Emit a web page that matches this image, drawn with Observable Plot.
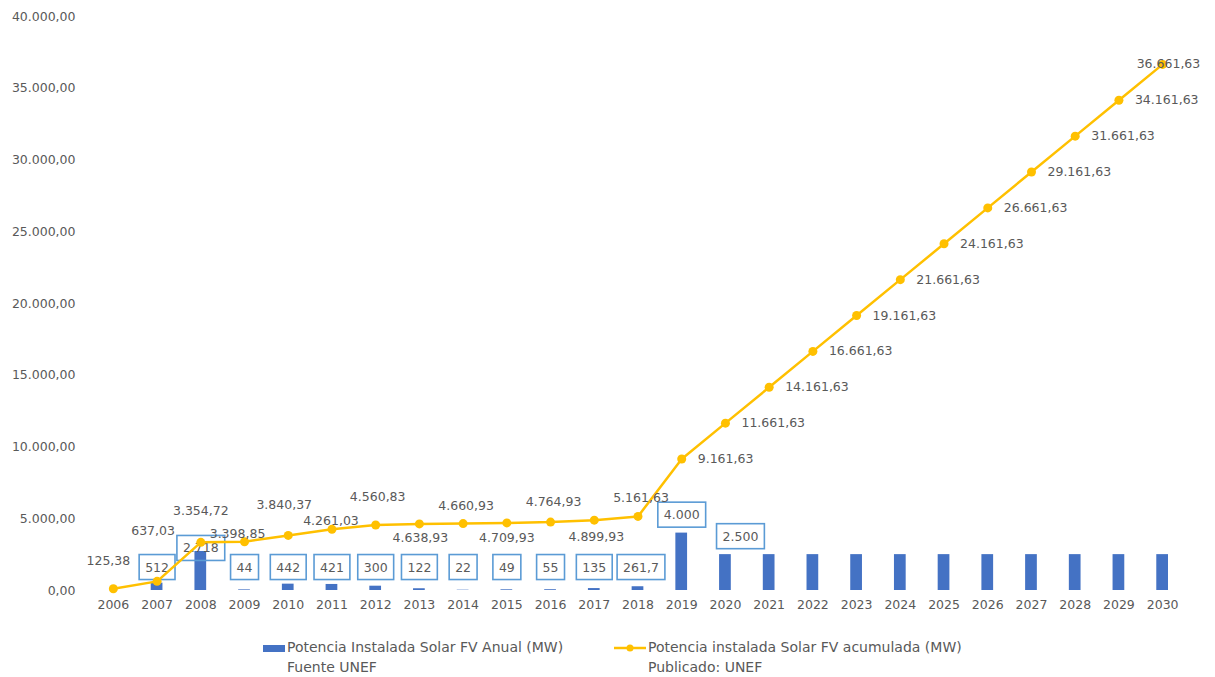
<!DOCTYPE html>
<html>
<head>
<meta charset="utf-8">
<script src="https://cdn.jsdelivr.net/npm/d3@7"></script>
<script src="https://cdn.jsdelivr.net/npm/@observablehq/plot@0.6"></script>
<style>
  body { margin: 0; background: #fff; font-family: "DejaVu Sans", sans-serif; }
  #chart { width: 1215px; }
  #legend { position: relative; width: 1215px; height: 57px; color: #595959; font-size: 14px; }
  .item { position: absolute; top: 17px; line-height: 20px; }
  .sw { position: absolute; }
</style>
</head>
<body>
<div id="chart"></div>
<div id="legend">
  <div class="sw" style="left:263px; top:25px; width:22px; height:7px; background:#4472C4;"></div>
  <div class="item" style="left:287px;">Potencia Instalada Solar FV Anual (MW)<br>Fuente UNEF</div>
  <svg class="sw" style="left:614px; top:21px;" width="32" height="14"><line x1="0" x2="32" y1="7" y2="7" stroke="#FFC000" stroke-width="2.5"/><circle cx="16" cy="7" r="3.5" fill="#FFC000"/></svg>
  <div class="item" style="left:648px;">Potencia instalada Solar FV acumulada (MW)<br>Publicado: UNEF</div>
</div>
<script>
const years = [2006, 2007, 2008, 2009, 2010, 2011, 2012, 2013, 2014, 2015, 2016, 2017, 2018,
               2019, 2020, 2021, 2022, 2023, 2024, 2025, 2026, 2027, 2028, 2029, 2030];
const annual = [null, 512, 2718, 44, 442, 421, 300, 122, 22, 49, 55, 135, 261.7,
                4000, 2500, 2500, 2500, 2500, 2500, 2500, 2500, 2500, 2500, 2500, 2500];
const cumulative = [125.38, 637.03, 3354.72, 3398.85, 3840.37, 4261.03, 4560.83, 4638.93, 4660.93,
                    4709.93, 4764.93, 4899.93, 5161.63, 9161.63, 11661.63, 14161.63, 16661.63,
                    19161.63, 21661.63, 24161.63, 26661.63, 29161.63, 31661.63, 34161.63, 36661.63];
const yTicks = [0, 5000, 10000, 15000, 20000, 25000, 30000, 35000, 40000];
const lastLabelledAnnualYear = 2020;

const loc = d3.formatLocale({decimal: ",", thousands: ".", grouping: [3], currency: ["", ""]});
const fmt2 = loc.format(",.2f");
const fmt0 = loc.format(",.0f");
const fmt1 = loc.format(",.1f");

const rows = years.map((year, i) => ({year, annual: annual[i], cum: cumulative[i]}));
const boxRows = rows.filter(d => d.annual != null && d.year <= lastLabelledAnnualYear);

// label nudges (pixels) for the cumulative labels, as placed in the original
const nudge = {2006:[-5,-28],2007:[-4,-50],2008:[0,-31],2009:[-7,-8],2010:[-4,-30],2011:[-1,-8],
  2012:[2,-28],2013:[1,14],2014:[3,-18],2015:[0,15],2016:[3,-20],2017:[2,17],2018:[3,-18]};
const rightSide = d => d.year >= 2019;

// box label placement (in data units)
const boxY = d => d.annual < 1000 ? 1600 : (d.year === 2008 ? 2930 : d.annual + 1250);
const boxDx = d => d.year === 2020 ? 15 : (d.year === 2018 ? 3 : 0);

const txt = "#595959";
const boxTxt = "#5a5a5a";
const font = "DejaVu Sans, sans-serif";

const plot = Plot.plot({
  width: 1215,
  height: 620,
  marginLeft: 91,
  marginRight: 31,
  marginTop: 16,
  marginBottom: 30,
  style: {fontFamily: font, fontSize: "12.5px", color: txt, background: "white"},
  x: {type: "band", domain: years, padding: 0, round: false, label: null, tickSize: 0, tickPadding: 10, tickFormat: d => String(d)},
  y: {domain: [0, 40000], ticks: yTicks, tickFormat: fmt2, label: null, tickSize: 0, tickPadding: 16},
  marks: [
    Plot.gridY(yTicks.filter(t => t > 0), {stroke: "#e3e3e3", strokeOpacity: 1, x1: 91, x2: 1188}),
    Plot.barY(rows.filter(d => d.annual != null), {x: "year", y: "annual", fill: "#4472C4", insetLeft: 16, insetRight: 16}),
    Plot.ruleY([0], {stroke: "#d0d0d0", strokeWidth: 1.5, x1: 91, x2: 1188}),
    Plot.text(boxRows, {
      x: "year", y: boxY, text: d => Number.isInteger(d.annual) ? fmt0(d.annual) : fmt1(d.annual),
      fill: boxTxt, fontSize: 12.5
    }),
    Plot.line(rows, {x: "year", y: "cum", stroke: "#FFC000", strokeWidth: 2.5}),
    Plot.dot(rows, {x: "year", y: "cum", fill: "#FFC000", r: 4.5}),
    ...rows.filter(d => !rightSide(d)).map(d => Plot.text([d], {
      x: "year", y: "cum", text: d => fmt2(d.cum), fill: txt, fontSize: 12.5,
      dx: nudge[d.year][0], dy: nudge[d.year][1]
    })),
    Plot.text(rows.filter(d => rightSide(d) && d.year < 2030), {
      x: "year", y: "cum", text: d => fmt2(d.cum), fill: txt, fontSize: 12.5,
      textAnchor: "start", dx: 16
    }),
    Plot.text(rows.filter(d => d.year === 2030), {
      x: "year", y: "cum", text: d => fmt2(d.cum), fill: txt, fontSize: 12.5,
      textAnchor: "start", dx: -26
    })
  ]
});

document.getElementById("chart").appendChild(plot);

// horizontal nudges + boxes around annual labels
const texts = Array.from(plot.querySelectorAll("text")).filter(t => {
  let el = t;
  while (el && el !== plot) {
    if (el.getAttribute && el.getAttribute("fill") === boxTxt) return true;
    el = el.parentNode;
  }
  return false;
});
texts.forEach((t, i) => {
  const d = boxRows[i];
  const shift = d ? boxDx(d) : 0;
  const prev = t.getAttribute("transform") || "";
  if (shift) t.setAttribute("transform", `translate(${shift},0) ${prev}`);
  const bb = t.getBBox();
  const r = document.createElementNS("http://www.w3.org/2000/svg", "rect");
  r.setAttribute("x", bb.x - 6);
  r.setAttribute("y", bb.y - 5);
  r.setAttribute("width", bb.width + 12);
  r.setAttribute("height", bb.height + 10);
  r.setAttribute("fill", "none");
  r.setAttribute("stroke", "#5B9BD5");
  r.setAttribute("stroke-width", "1.6");
  const tr = t.getAttribute("transform");
  if (tr) r.setAttribute("transform", tr);
  t.parentNode.insertBefore(r, t);
});
</script>
</body>
</html>
